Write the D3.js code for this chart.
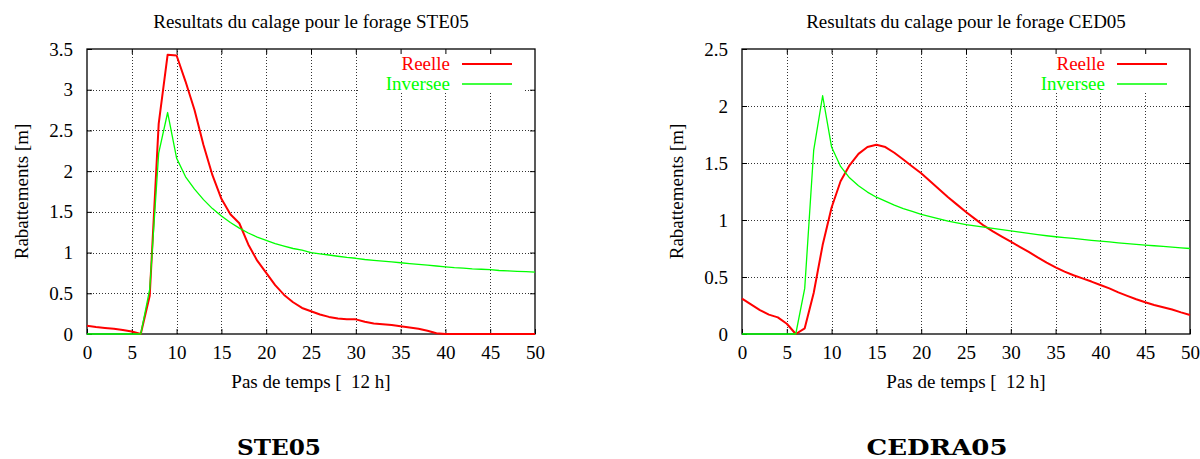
<!DOCTYPE html>
<html>
<head>
<meta charset="utf-8">
<script src="https://cdn.jsdelivr.net/npm/d3@7"></script>
<style>
  html, body { margin: 0; padding: 0; background: #fff; }
  svg { display: block; }
  text { font-family: "Liberation Serif", "Times New Roman", serif; }
</style>
</head>
<body>
<svg id="chart" width="1200" height="459"></svg>
<script>
// ---------- data ----------
const steps = d3.range(0, 51); // time steps 0..50

const ste05Reelle = [0.10,0.085,0.075,0.065,0.05,0.03,0.0,0.47,2.58,3.43,
  3.42,3.10,2.75,2.32,1.95,1.66,1.47,1.36,1.10,0.90,
  0.75,0.60,0.48,0.39,0.32,0.28,0.24,0.21,0.19,0.18,
  0.18,0.15,0.13,0.12,0.11,0.095,0.08,0.065,0.04,0.01,
  0,0,0,0,0,0,0,0,0,0,0];
const ste05Inversee = [0,0,0,0,0,0,0,0.55,2.22,2.72,
  2.16,1.93,1.78,1.65,1.54,1.45,1.37,1.30,1.24,1.19,
  1.15,1.11,1.08,1.05,1.03,1.00,0.985,0.97,0.955,0.94,
  0.93,0.915,0.905,0.895,0.885,0.875,0.865,0.855,0.845,0.835,
  0.825,0.815,0.81,0.80,0.795,0.79,0.78,0.775,0.77,0.765,0.76];

const cedReelle = [0.31,0.26,0.21,0.17,0.146,0.09,0.0,0.05,0.36,0.78,
  1.11,1.34,1.48,1.58,1.64,1.66,1.64,1.59,1.53,1.47,
  1.41,1.34,1.27,1.20,1.135,1.07,1.01,0.95,0.90,0.855,
  0.81,0.765,0.72,0.672,0.627,0.585,0.547,0.515,0.488,0.46,
  0.43,0.40,0.365,0.335,0.305,0.278,0.255,0.235,0.215,0.19,0.167];
const cedInversee = [0,0,0,0,0,0,0,0.40,1.61,2.09,
  1.64,1.47,1.37,1.30,1.245,1.20,1.165,1.13,1.10,1.075,
  1.05,1.03,1.01,0.99,0.975,0.96,0.948,0.937,0.926,0.915,
  0.905,0.893,0.882,0.872,0.862,0.853,0.845,0.838,0.83,0.822,
  0.815,0.808,0.80,0.793,0.786,0.78,0.774,0.768,0.762,0.756,0.75];

const xTicks = [0,5,10,15,20,25,30,35,40,45,50];
const yTicksSte = [0,0.5,1,1.5,2,2.5,3,3.5];
const yTicksCed = [0,0.5,1,1.5,2,2.5];
const seriesNames = ["Reelle", "Inversee"];
const seriesColors = ["#ff0000", "#00ff00"];
const titles = ["Resultats du calage pour le forage STE05", "Resultats du calage pour le forage CED05"];
const captions = ["STE05", "CEDRA05"];
const xLabel = "Pas de temps [  12 h]";
const yLabel = "Rabattements [m]";

// ---------- drawing ----------
const FS = 19;
const svg = d3.select("#chart");
svg.append("rect").attr("width", 1200).attr("height", 459).attr("fill", "#fff");

function drawPanel(opt) {
  const g = svg.append("g");
  const x = d3.scaleLinear().domain([0, 50]).range([opt.left, opt.right]);
  const y = d3.scaleLinear().domain([0, opt.ymax]).range([opt.bottom, opt.top]);

  // grid
  const grid = g.append("g").attr("stroke", "#333").attr("stroke-width", 1)
    .attr("stroke-dasharray", "1,2");
  xTicks.slice(1, -1).forEach(t => {
    grid.append("line").attr("x1", Math.round(x(t)) + 0.5).attr("x2", Math.round(x(t)) + 0.5)
      .attr("y1", opt.bottom).attr("y2", opt.top);
  });
  opt.yTicks.slice(1, -1).forEach(t => {
    grid.append("line").attr("y1", Math.round(y(t)) + 0.5).attr("y2", Math.round(y(t)) + 0.5)
      .attr("x1", opt.left).attr("x2", opt.right);
  });

  // key box (blanks grid)
  g.append("rect").attr("x", opt.keyX).attr("y", opt.top + 1)
    .attr("width", 165).attr("height", 43).attr("fill", "#fff");

  // axes via d3 axis (inward ticks, mirrored)
  const axStyle = sel => {
    sel.attr("font-family", null).attr("font-size", null);
    sel.select(".domain").remove();
    sel.selectAll("line").attr("stroke", "#000");
    sel.selectAll("text").style("font-family", "'Liberation Serif', serif").style("font-size", FS + "px").attr("fill", "#000");
  };
  g.append("g").attr("transform", `translate(0,${opt.bottom})`)
    .call(d3.axisBottom(x).tickValues(xTicks).tickSizeInner(-5).tickSizeOuter(0).tickPadding(12).tickFormat(d3.format("d")))
    .call(axStyle);
  g.append("g").attr("transform", `translate(0,${opt.top})`)
    .call(d3.axisTop(x).tickValues(xTicks.slice(1, -1)).tickSizeInner(-5).tickSizeOuter(0).tickFormat(""))
    .call(axStyle);
  g.append("g").attr("transform", `translate(${opt.left},0)`)
    .call(d3.axisLeft(y).tickValues(opt.yTicks).tickSizeInner(-5).tickSizeOuter(0).tickPadding(14).tickFormat(d => String(d)))
    .call(axStyle);
  g.append("g").attr("transform", `translate(${opt.right},0)`)
    .call(d3.axisRight(y).tickValues(opt.yTicks.slice(1, -1)).tickSizeInner(-5).tickSizeOuter(0).tickFormat(""))
    .call(axStyle);

  // border
  g.append("rect").attr("x", opt.left).attr("y", opt.top)
    .attr("width", opt.right - opt.left).attr("height", opt.bottom - opt.top)
    .attr("fill", "none").attr("stroke", "#000").attr("stroke-width", 1.3);

  // lines
  const line = d3.line().x((d, i) => x(steps[i])).y(d => y(d));
  [opt.reelle, opt.inversee].forEach((vals, k) => {
    g.append("path").datum(vals).attr("d", line).attr("fill", "none")
      .attr("stroke", seriesColors[k]).attr("stroke-width", k === 0 ? 2 : 1.3)
      .attr("stroke-linejoin", "round");
  });

  // legend
  seriesNames.forEach((name, k) => {
    const yy = opt.top + 15 + k * 20;
    g.append("text").attr("x", opt.keyTextEnd).attr("y", yy).attr("dy", "0.33em")
      .attr("text-anchor", "end").style("font-size", FS + "px").attr("fill", seriesColors[k]).text(name);
    g.append("line").attr("x1", opt.keyTextEnd + 12).attr("x2", opt.keyTextEnd + 62)
      .attr("y1", yy).attr("y2", yy).attr("stroke", seriesColors[k])
      .attr("stroke-width", k === 0 ? 2 : 1.3);
  });

  const cx = (opt.left + opt.right) / 2;
  // title
  g.append("text").attr("x", cx).attr("y", 28).attr("text-anchor", "middle")
    .style("font-size", FS + "px").text(opt.title);
  // x label
  g.append("text").attr("x", cx).attr("y", 388).attr("text-anchor", "middle")
    .style("font-size", FS + "px").attr("xml:space", "preserve").style("white-space", "pre").text(xLabel);
  // y label
  g.append("text").attr("transform", `translate(${opt.ylabX},${(opt.top + opt.bottom) / 2}) rotate(-90)`)
    .attr("text-anchor", "middle").attr("dy", "0.33em").style("font-size", FS + "px").text(yLabel);
  // caption
  g.append("text").attr("x", opt.capX).attr("y", 455).attr("text-anchor", "middle")
    .style("font-family", "'DejaVu Serif', serif").attr("font-weight", "bold").style("font-size", "23px")
    .attr("textLength", opt.capW).attr("lengthAdjust", "spacingAndGlyphs").text(opt.caption);
}

drawPanel({left: 87, right: 535, top: 49, bottom: 334, ymax: 3.5, yTicks: yTicksSte,
  reelle: ste05Reelle, inversee: ste05Inversee, title: titles[0], caption: captions[0],
  keyX: 358, keyTextEnd: 450, ylabX: 22, capX: 279, capW: 84});
drawPanel({left: 742, right: 1190, top: 49, bottom: 334, ymax: 2.5, yTicks: yTicksCed,
  reelle: cedReelle, inversee: cedInversee, title: titles[1], caption: captions[1],
  keyX: 1013, keyTextEnd: 1105, ylabX: 677, capX: 937, capW: 141});
</script>
</body>
</html>
